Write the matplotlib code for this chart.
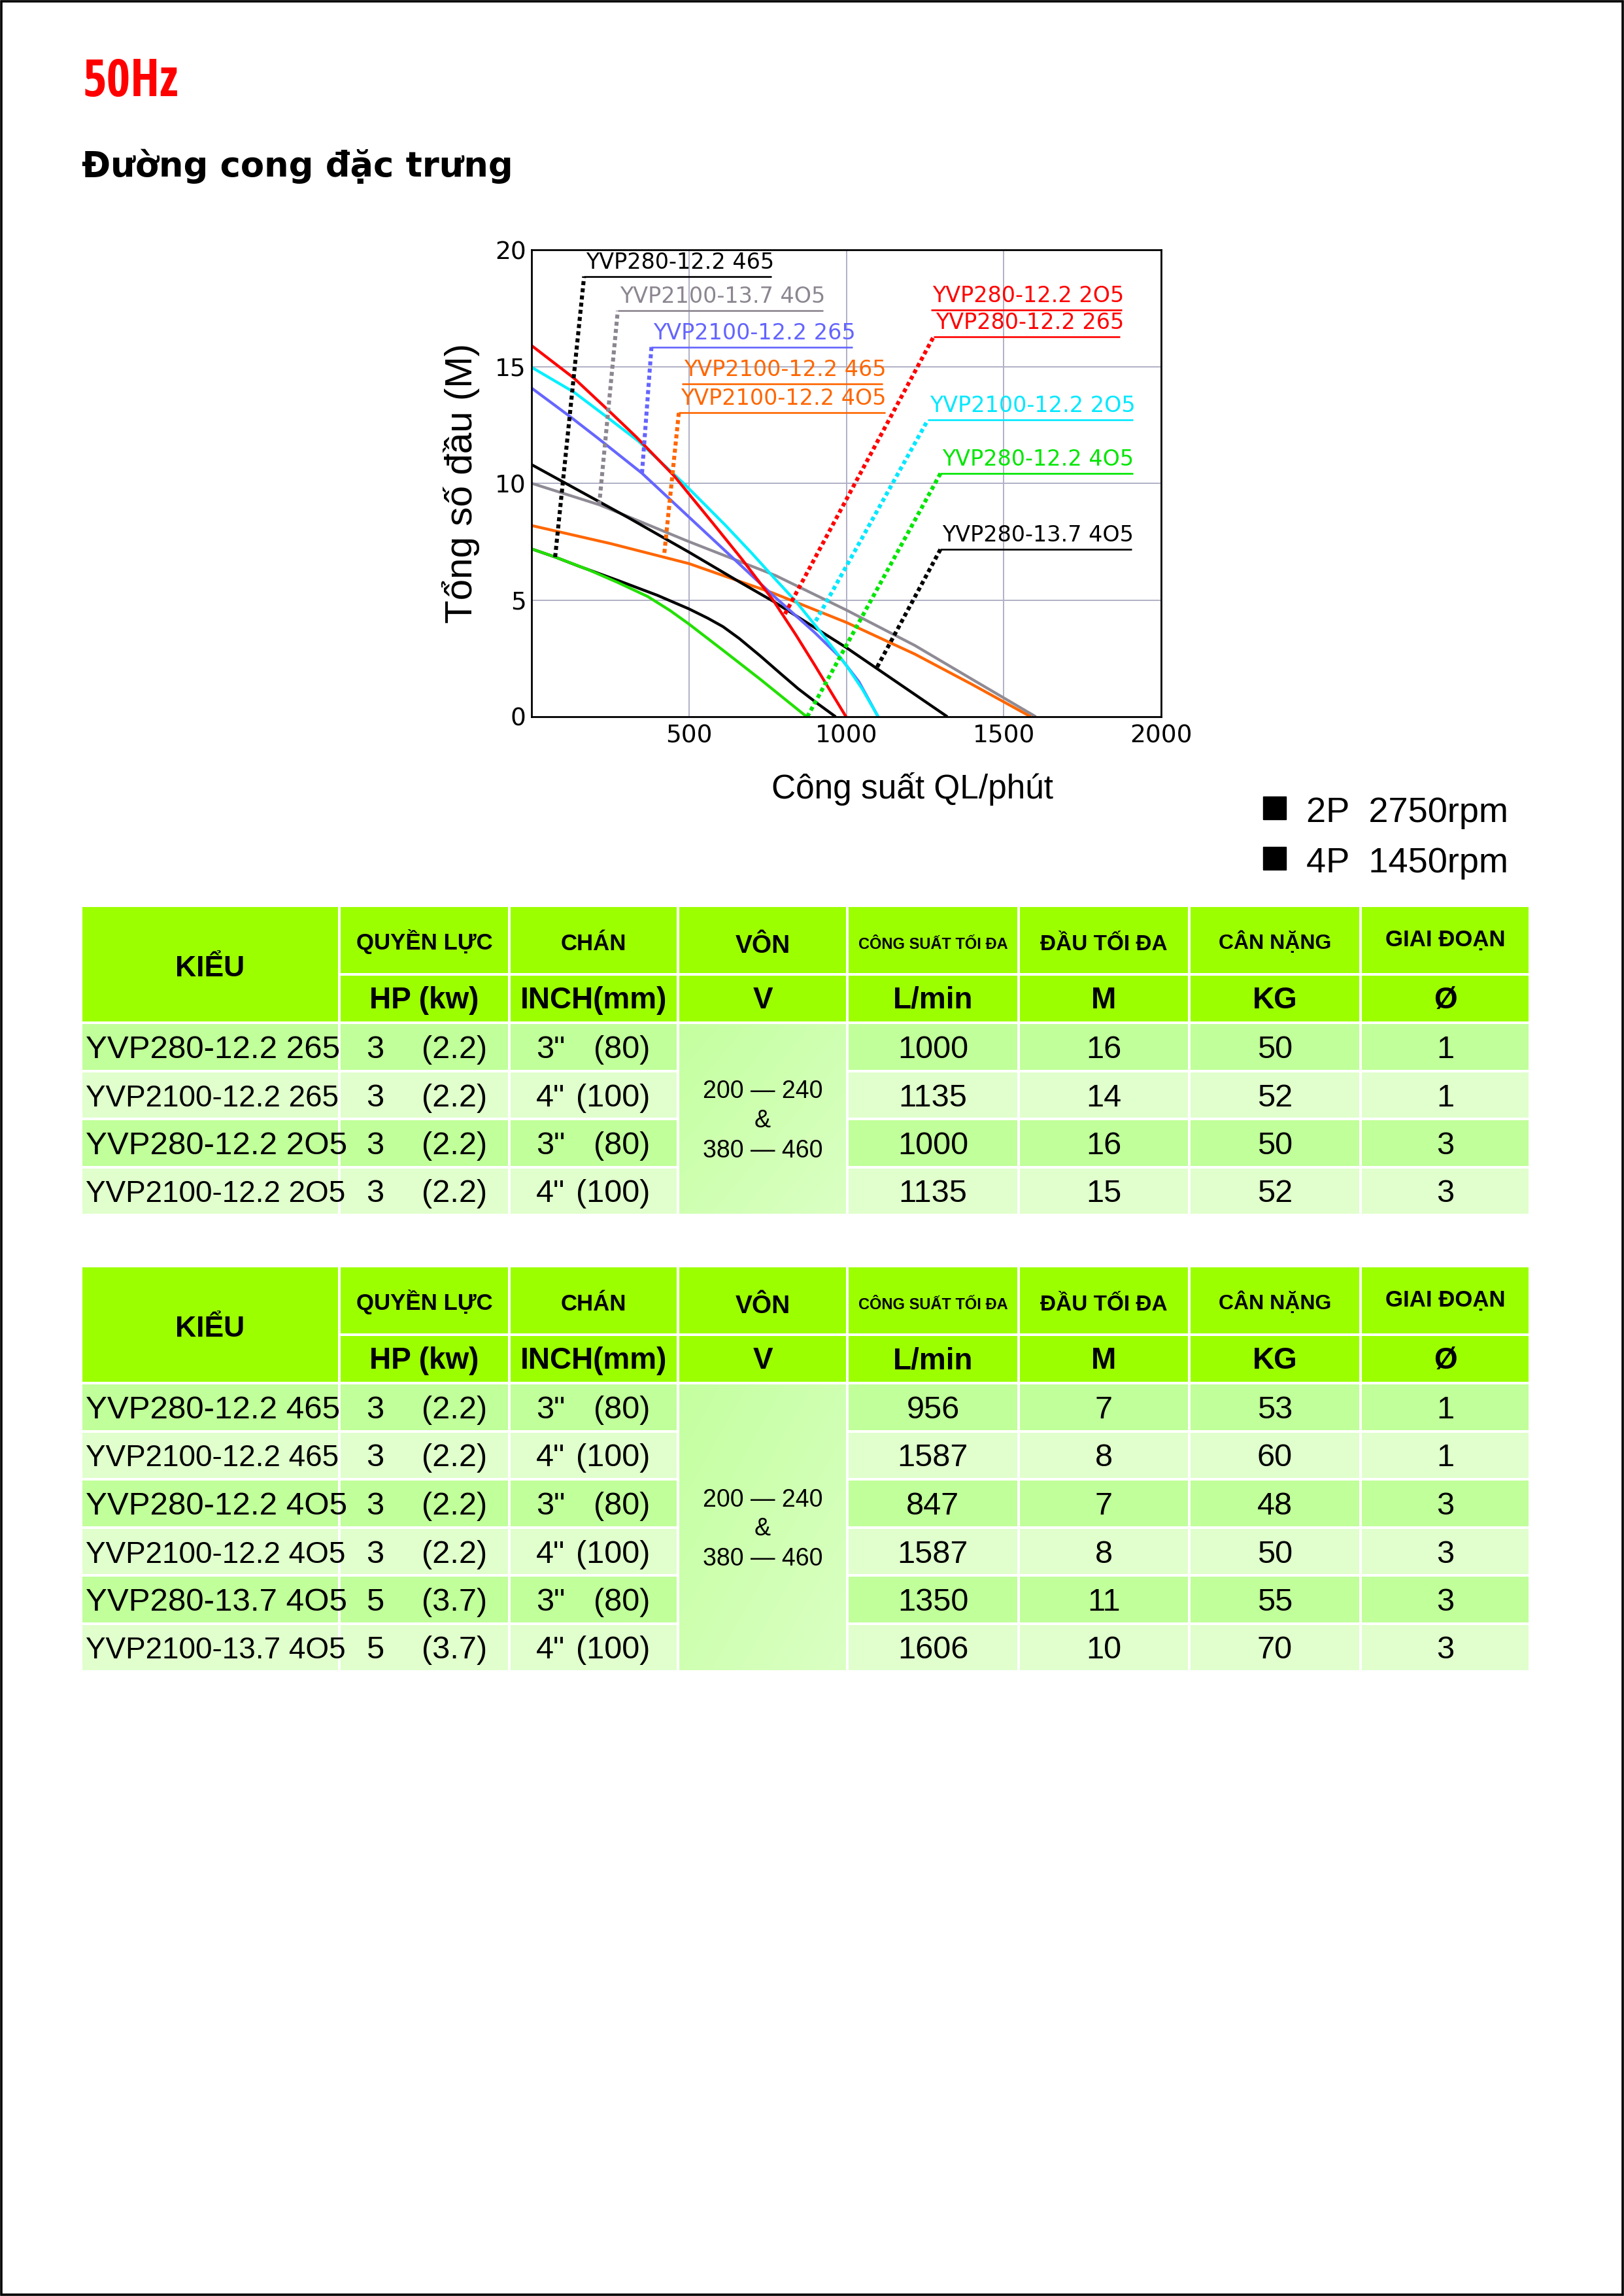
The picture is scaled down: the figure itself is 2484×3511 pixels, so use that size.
import numpy as np
import matplotlib
matplotlib.use("Agg")
import matplotlib.pyplot as plt
from matplotlib.patches import Rectangle
from matplotlib import font_manager as fm

plt.rcParams['font.family'] = ['Liberation Sans', 'DejaVu Sans']

# ---------------- chart data (flow L/min, head m) ----------------
flow_280_122_2 = [0, 135, 246, 333, 454, 576, 670, 767, 840, 900, 999]
head_280_122_2 = [15.9, 14.5, 13.1, 11.98, 10.3, 8.29, 6.72, 5.0, 3.5, 2.2, 0]

flow_2100_122_2o5 = [0, 135, 246, 340, 486, 616, 700, 767, 839, 911, 1000, 1050, 1101]
head_2100_122_2o5 = [14.97, 13.9, 12.77, 11.8, 9.96, 8.2, 7.0, 6.0, 4.95, 3.75, 2.2, 1.2, 0]

flow_2100_122_265 = [0, 121, 211, 350, 521, 767, 900, 980, 1040, 1101]
head_2100_122_265 = [14.08, 12.87, 11.93, 10.44, 8.29, 5.2, 3.6, 2.55, 1.5, 0]

flow_280_137_4o5 = [0, 311, 500, 656, 767, 1000, 1218, 1321]
head_280_137_4o5 = [10.8, 8.5, 7.05, 5.81, 4.95, 2.96, 0.95, 0]

flow_2100_137_4o5 = [0, 215, 311, 500, 775, 1000, 1218, 1400, 1602]
head_2100_137_4o5 = [10.0, 9.08, 8.55, 7.5, 6.05, 4.57, 3.05, 1.6, 0]

flow_2100_122_4 = [0, 250, 500, 767, 1000, 1218, 1400, 1586]
head_2100_122_4 = [8.19, 7.42, 6.56, 5.30, 4.04, 2.68, 1.38, 0]

flow_280_122_465 = [0, 75, 150, 274, 400, 500, 560, 608, 660, 727, 790, 847, 910, 966]
head_280_122_465 = [7.19, 6.84, 6.45, 5.84, 5.2, 4.62, 4.22, 3.86, 3.35, 2.6, 1.86, 1.2, 0.55, 0]

flow_280_122_4o5 = [0, 75, 180, 274, 369, 440, 500, 608, 727, 874]
head_280_122_4o5 = [7.19, 6.84, 6.3, 5.75, 5.15, 4.55, 3.97, 2.85, 1.6, 0]

curve_flows = [flow_2100_137_4o5, flow_2100_122_4, flow_280_137_4o5, flow_280_122_465,
               flow_280_122_4o5, flow_2100_122_265, flow_2100_122_2o5, flow_280_122_2]
curve_heads = [head_2100_137_4o5, head_2100_122_4, head_280_137_4o5, head_280_122_465,
               head_280_122_4o5, head_2100_122_265, head_2100_122_2o5, head_280_122_2]
curve_colors = ['#8f8b95', '#ff6600', '#000000', '#000000',
                '#22e000', '#6666ff', '#00f0ff', '#ff0000']

# curve labels: text, point on curve (or None), corner of leader, end of underline
label_texts = ["YVP280-12.2 465", "YVP2100-13.7 4O5", "YVP2100-12.2 265",
               "YVP2100-12.2 465", "YVP2100-12.2 4O5", "YVP280-12.2 2O5",
               "YVP280-12.2 265", "YVP2100-12.2 2O5", "YVP280-12.2 4O5",
               "YVP280-13.7 4O5"]
label_colors = ['#000000', '#8c8690', '#6464ff', '#ff6600', '#ff6600',
                '#ff0000', '#ff0000', '#00e8ff', '#00e600', '#000000']
leader_from_x = [75, 215, 351, None, 422, None, 805, 903, 876, 1098]
leader_from_y = [6.84, 9.08, 10.44, None, 7.02, None, 4.4, 4.1, 0.0, 2.13]
leader_to_x = [167, 274, 381, 478, 468, 1268, 1277, 1259, 1299, 1299]
leader_to_y = [18.86, 17.39, 15.84, 14.27, 13.03, 17.41, 16.27, 12.71, 10.42, 7.17]
underline_end = [762, 927, 1020, 1115, 1123, 1876, 1869, 1910, 1910, 1907]

x_ticks = [500, 1000, 1500, 2000]
y_ticks = [0, 5, 10, 15, 20]

# ---------------- table data ----------------
header_top = ["KIỂU", "QUYỀN LỰC", "CHÁN", "VÔN", "CÔNG SUẤT TỐI ĐA",
              "ĐẦU TỐI ĐA", "CÂN NẶNG", "GIAI ĐOẠN"]
header_units = ["", "HP (kw)", "INCH(mm)", "V", "L/min", "M", "KG", "Ø"]
volt_lines = ["200 — 240", "&", "380 — 460"]

t1_models = ["YVP280-12.2 265", "YVP2100-12.2 265", "YVP280-12.2 2O5", "YVP2100-12.2 2O5"]
t1_hp = ["3", "3", "3", "3"]
t1_kw = ["(2.2)", "(2.2)", "(2.2)", "(2.2)"]
t1_inch = ['3"', '4"', '3"', '4"']
t1_mm = ["(80)", "(100)", "(80)", "(100)"]
t1_flow = [1000, 1135, 1000, 1135]
t1_head = [16, 14, 16, 15]
t1_weight = [50, 52, 50, 52]
t1_phase = [1, 1, 3, 3]

t2_models = ["YVP280-12.2 465", "YVP2100-12.2 465", "YVP280-12.2 4O5",
             "YVP2100-12.2 4O5", "YVP280-13.7 4O5", "YVP2100-13.7 4O5"]
t2_hp = ["3", "3", "3", "3", "5", "5"]
t2_kw = ["(2.2)", "(2.2)", "(2.2)", "(2.2)", "(3.7)", "(3.7)"]
t2_inch = ['3"', '4"', '3"', '4"', '3"', '4"']
t2_mm = ["(80)", "(100)", "(80)", "(100)", "(80)", "(100)"]
t2_flow = [956, 1587, 847, 1587, 1350, 1606]
t2_head = [7, 8, 7, 8, 11, 10]
t2_weight = [53, 60, 48, 50, 55, 70]
t2_phase = [1, 1, 3, 3, 3, 3]

legend_items = ["2P  2750rpm", "4P  1450rpm"]


# ---------------- helper: find a condensed bold face if present ----------------
def condensed_bold():
    best = None
    for f in fm.fontManager.ttflist:
        nm = f.name.lower()
        st = str(f.stretch).lower()
        cond = ('narrow' in nm or 'condensed' in nm or 'condensed' in st
                or 'narrow' in f.fname.lower() or 'condensed' in f.fname.lower())
        try:
            wt = int(f.weight)
        except Exception:
            wt = 700 if 'bold' in str(f.weight).lower() else 400
        if cond and wt >= 600 and 'mono' not in nm and 'serif' not in nm.replace('sans', ''):
            score = 0 if 'liberation' in nm else (1 if 'open' in nm or 'roboto' in nm else 2)
            if best is None or score < best[0]:
                best = (score, f.fname)
    return best[1] if best else None


# ---------------- figure ----------------
W, H = 2484, 3511
DPI = 100
fig = plt.figure(figsize=(W / DPI, H / DPI), dpi=DPI)
fig.patch.set_facecolor('white')

ov = fig.add_axes([0, 0, 1, 1])
ov.set_zorder(0)
ov.axis('off')
ov.set_xlim(0, W)
ov.set_ylim(H, 0)

# page border
ov.add_patch(Rectangle((2, 2), W - 4, H - 4, fill=False, edgecolor='black',
                       lw=2.6, clip_on=False))

# titles
cb = condensed_bold()
if cb:
    hz = ov.text(127, 147, "50Hz", color='#ff0000', fontsize=57,
                 fontproperties=fm.FontProperties(fname=cb, size=57),
                 ha='left', va='baseline')
else:
    hz = ov.text(127, 147, "50Hz", color='#ff0000', fontsize=57, fontweight='bold',
                 ha='left', va='baseline')
fig.canvas.draw()
bb = hz.get_window_extent()
if bb.width > 160:
    hz.set_fontsize(max(46, 57 * 150 / bb.width))

ov.text(125, 270, "Đường cong đặc trưng", color='black', fontsize=38,
        fontweight='bold', family=['DejaVu Sans'], ha='left', va='baseline')

# axis titles
ov.text(705, 739, "Tổng số đầu (M)", rotation=90, fontsize=42, ha='center',
        va='center', color='black')
ov.text(1396, 1221, "Công suất QL/phút", fontsize=37, ha='center', va='baseline',
        color='black')

# legend
leg_baselines = [1257, 1334]
for txt, yb in zip(legend_items, leg_baselines):
    ov.add_patch(Rectangle((1932, yb - 39), 35, 35, color='black'))
    ov.text(1998, yb, txt, fontsize=39, ha='left', va='baseline', color='black')

# ---------------- tables ----------------
col_left = [126, 521, 781, 1039, 1298, 1560, 1821, 2083]
col_right = [517, 777, 1035, 1294, 1556, 1817, 2079, 2338]
col_cx = [(a + b) / 2 for a, b in zip(col_left, col_right)]
HEAD_C = '#9cff00'
ROW_C = ['#c0ff99', '#e0ffcc']
head1_sizes = [32, 25, 25, 28, 17, 24, 23, 25]
head1_base = [106, 65, 66, 70, 64, 66, 64, 60]


def draw_table(top, models, hp, kw, inch, mm, flow, head, weight, phase):
    period = 73.5
    rh = 69.5
    h2 = top + 105
    r0 = top + 179
    n = len(models)
    rend = r0 + (n - 1) * period + rh
    ov.add_patch(Rectangle((col_left[0], top), col_right[0] - col_left[0], 175,
                           color=HEAD_C, lw=0))
    for c in range(1, 8):
        ov.add_patch(Rectangle((col_left[c], top), col_right[c] - col_left[c], 101,
                               color=HEAD_C, lw=0))
        ov.add_patch(Rectangle((col_left[c], h2), col_right[c] - col_left[c], 70,
                               color=HEAD_C, lw=0))
    for c in range(8):
        ov.text(col_cx[c], top + head1_base[c], header_top[c], fontsize=head1_sizes[c],
                fontweight='bold', ha='center', va='baseline', color='black')
        if header_units[c]:
            ov.text(col_cx[c], top + 155, header_units[c], fontsize=33,
                    fontweight='bold', ha='center', va='baseline', color='black')
    for i in range(n):
        rt = r0 + i * period
        for c in range(8):
            if c == 3:
                continue
            ov.add_patch(Rectangle((col_left[c], rt), col_right[c] - col_left[c], rh,
                                   color=ROW_C[i % 2], lw=0))
        yb = rt + 52
        msize = 35.5 if len(models[i]) <= 15 else 33
        ov.text(131, yb, models[i], fontsize=msize, ha='left', va='baseline')
        ov.text(560, yb, hp[i], fontsize=35, ha='left', va='baseline')
        ov.text(695, yb, kw[i], fontsize=35, ha='center', va='baseline')
        ov.text(820, yb, inch[i], fontsize=35, ha='left', va='baseline')
        ov.text(994, yb, mm[i], fontsize=35, ha='right', va='baseline')
        for c, v in zip([4, 5, 6, 7], [flow[i], head[i], weight[i], phase[i]]):
            ov.text(col_cx[c], yb, str(v), fontsize=35, ha='center', va='baseline')
    gy, gx = np.mgrid[0:1:60j, 0:1:20j]
    t = 0.5 * gy + 0.5 * gx
    grad = np.zeros((60, 20, 3))
    grad[..., 0] = (196 + 22 * t) / 255
    grad[..., 1] = 1.0
    grad[..., 2] = (160 + 35 * t) / 255
    ov.imshow(grad, extent=(col_left[3], col_right[3], rend, r0), aspect='auto',
              interpolation='bicubic', zorder=1)
    cy = (r0 + rend) / 2
    for txt, off in zip(volt_lines, [-32, 13, 59]):
        ov.text(col_cx[3], cy + off, txt, fontsize=27, ha='center', va='baseline',
                zorder=3)


draw_table(1387, t1_models, t1_hp, t1_kw, t1_inch, t1_mm, t1_flow, t1_head,
           t1_weight, t1_phase)
draw_table(1938, t2_models, t2_hp, t2_kw, t2_inch, t2_mm, t2_flow, t2_head,
           t2_weight, t2_phase)

ov.set_xlim(0, W)
ov.set_ylim(H, 0)

# ---------------- chart ----------------
ax = fig.add_axes([813 / W, 1 - 1096 / H, 963 / W, 714 / H])
ax.set_zorder(2)
ax.set_xlim(0, 2000)
ax.set_ylim(0, 20)
ax.set_xticks(x_ticks)
ax.set_yticks(y_ticks)
ax.grid(True, color='#b0b0c6', lw=1.4, zorder=0)
ax.set_axisbelow(True)
ax.tick_params(length=0, labelsize=27, pad=6)
ax.tick_params(axis='x', pad=8)
for lab in ax.get_xticklabels() + ax.get_yticklabels():
    lab.set_family(['DejaVu Sans'])
for s in ax.spines.values():
    s.set_linewidth(2.0)
    s.set_zorder(5)

for fx, hy, col in zip(curve_flows, curve_heads, curve_colors):
    ax.plot(fx, hy, color=col, lw=3.1, solid_joinstyle='round', solid_capstyle='butt',
            zorder=3)

for i, txt in enumerate(label_texts):
    col = label_colors[i]
    x1, y1 = leader_to_x[i], leader_to_y[i]
    if leader_from_x[i] is not None:
        ax.plot([leader_from_x[i], x1], [leader_from_y[i], y1], color=col, lw=4.4,
                linestyle=(0, (1, 0.8)), dash_capstyle='butt', zorder=4)
    ax.plot([x1, underline_end[i]], [y1, y1], color=col, lw=1.9, zorder=4,
            solid_capstyle='butt')
    ax.text(x1 + 6, y1 + 0.14, txt, color=col, fontsize=24, family=['DejaVu Sans'],
            ha='left', va='bottom', zorder=4)

fig.savefig("out.png", dpi=DPI, facecolor='white')
